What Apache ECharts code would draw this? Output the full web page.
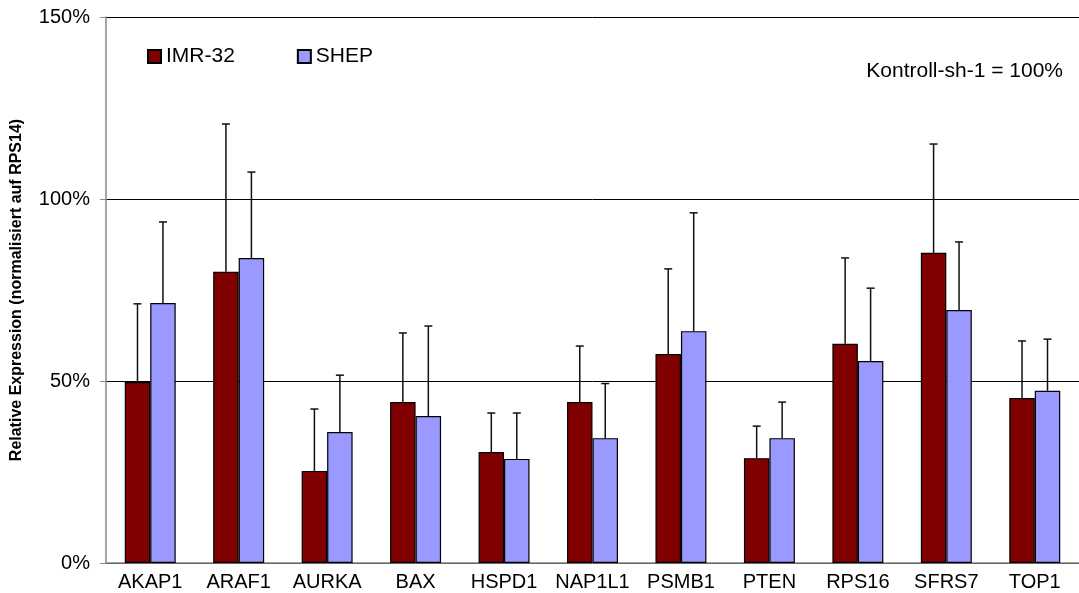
<!DOCTYPE html>
<html><head><meta charset="utf-8">
<script src="https://cdn.jsdelivr.net/npm/echarts@6/dist/echarts.min.js"></script>
<style>html,body{margin:0;padding:0;background:#fff}#c{width:1079px;height:593px}</style>
</head><body><div id="c"></div>
<script>
const categories = ['AKAP1','ARAF1','AURKA','BAX','HSPD1','NAP1L1','PSMB1','PTEN','RPS16','SFRS7','TOP1'];
const imr32 = [49.7, 80.0, 25.3, 44.2, 30.5, 44.2, 57.4, 28.8, 60.2, 85.2, 45.3];
const imr32Upper = [71.2, 120.6, 42.3, 63.2, 41.2, 59.6, 80.8, 37.6, 83.8, 115.1, 61.0];
const shep = [71.4, 83.8, 36.0, 40.4, 28.6, 34.3, 63.7, 34.3, 55.5, 69.5, 47.3];
const shepUpper = [93.7, 107.4, 51.6, 65.1, 41.2, 49.3, 96.2, 44.2, 75.5, 88.2, 61.5];
const yTicks = [0, 50, 100, 150];

const FONT = 'Liberation Sans, Arial, sans-serif';
const BARW = 0.288;

function errSeries(name, vals, uppers, side) {
  return {
    type: 'custom', name: name + '-err', z: 1, silent: true,
    data: vals.map((v, i) => [i, v, uppers[i]]),
    renderItem: function (params, api) {
      const i = api.value(0);
      const band = api.size([1, 0])[0];
      const off = side * band * BARW / 2;
      const p0 = api.coord([i, api.value(1)]);
      const p1 = api.coord([i, api.value(2)]);
      const x = p0[0] + off;
      const st = { stroke: '#111', lineWidth: 1.5 };
      return { type: 'group', children: [
        { type: 'line', shape: { x1: x, y1: p0[1], x2: x, y2: p1[1] }, style: st },
        { type: 'line', shape: { x1: x - 4, y1: p1[1], x2: x + 4, y2: p1[1] }, style: st }
      ]};
    }
  };
}

const chart = echarts.init(document.getElementById('c'));
chart.setOption({
  animation: false,
  grid: { left: 106, right: 0, top: 17, bottom: 30 },
  legend: {
    data: ['IMR-32', 'SHEP'], left: 147, top: 46, padding: 0, itemWidth: 13, itemHeight: 13, itemGap: 62,
    textStyle: { fontFamily: FONT, fontSize: 21, color: '#000' },
    icon: 'rect'
  },
  graphic: [
    { type: 'text', right: 16, top: 61, style: { text: 'Kontroll-sh-1 = 100%', font: '21px ' + FONT, fill: '#000' } },
    { type: 'text', x: 17, y: 290, rotation: Math.PI / 2,
      style: { text: 'Relative Expression (normalisiert auf RPS14)', font: 'bold 16px ' + FONT, fill: '#000', align: 'center', verticalAlign: 'middle' } }
  ],
  xAxis: {
    type: 'category', data: categories,
    axisLine: { lineStyle: { color: '#888', width: 1.5 } },
    axisTick: { show: false },
    axisLabel: { fontFamily: FONT, fontSize: 20, color: '#000', margin: 9, interval: 0 }
  },
  yAxis: {
    type: 'value', min: 0, max: 150, interval: 50,
    axisLine: { show: true, lineStyle: { color: '#888', width: 1.5 } },
    axisTick: { show: true, length: 6, lineStyle: { color: '#888' } },
    axisLabel: { fontFamily: FONT, fontSize: 20, color: '#000', margin: 16,
      formatter: v => yTicks.includes(v) ? v + '%' : '' },
    splitLine: { lineStyle: { color: '#000', width: 1 } }
  },
  series: [
    errSeries('IMR-32', imr32, imr32Upper, -1),
    errSeries('SHEP', shep, shepUpper, 1),
    { name: 'IMR-32', type: 'bar', data: imr32, barWidth: (BARW * 100) + '%', barGap: '0%', z: 2,
      itemStyle: { color: '#800000', borderColor: '#000', borderWidth: 1.2 } },
    { name: 'SHEP', type: 'bar', data: shep, barWidth: (BARW * 100) + '%', barGap: '0%', z: 2,
      itemStyle: { color: '#9999FF', borderColor: '#000', borderWidth: 1.2 } }
  ]
});
</script></body></html>
